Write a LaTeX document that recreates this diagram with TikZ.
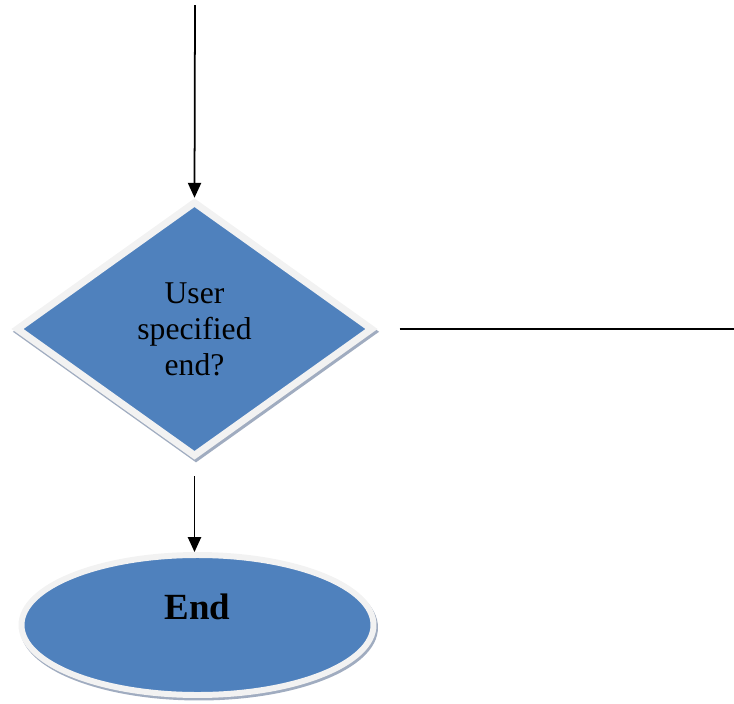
\documentclass[tikz,border=0pt]{standalone}
\usepackage{fontspec}
\setmainfont{Liberation Serif}
\usepackage{tikz}
\usetikzlibrary{shapes.geometric, arrows.meta, positioning, shadows}
\definecolor{boxblue}{RGB}{79,129,189}
\definecolor{rimgray}{RGB}{242,242,242}
\definecolor{shadowgray}{RGB}{160,172,192}

\tikzset{
  flowline/.style={line width=1pt},
  flowarrow/.style={flowline, -{Triangle[length=8.5pt,width=7.5pt]}},
  decbox/.style={diamond, fill=boxblue, draw=rimgray, line width=4pt, inner sep=0pt,
    minimum width=7.14cm, minimum height=5.11cm,
    drop shadow={shadow xshift=0.03cm, shadow yshift=-0.055cm, fill=shadowgray,
      draw=shadowgray, line width=4pt, opacity=1}},
  termbox/.style={ellipse, fill=boxblue, draw=rimgray, line width=3.4pt, inner sep=0pt,
    minimum width=7.04cm, minimum height=2.8cm,
    drop shadow={shadow xshift=0.03cm, shadow yshift=-0.05cm, fill=shadowgray,
      draw=shadowgray, line width=3.4pt, opacity=1}}
}

\begin{document}
\begin{tikzpicture}
  \useasboundingbox (0,0) rectangle (14.68,-14.08);

  % decision and terminal
  \node[decbox] (dec) at (3.89,-6.58) {};
  \node[align=center, font=\fontsize{18}{20.5}\selectfont] (dectxt) at (dec.center) {User\\specified\\end?};
  \node[termbox] (term) at (3.95,-12.5) {};
  \node[font=\fontsize{21}{24}\selectfont\bfseries] (termtxt) at ([yshift=0.36cm]term.center) {End};

  % connectors
  \coordinate (intop) at (3.9,-0.1);
  \coordinate (noout) at (14.68,-6.58);
  \coordinate (yesfrom) at ([yshift=-0.32cm]dec.south);
  \draw[flowarrow] (intop) -- (dec.north);
  \draw[flowline] ([xshift=0.46cm]dec.east) -- (noout);
  \draw[flowarrow] (yesfrom) -- (yesfrom |- term.north);
\end{tikzpicture}
\end{document}
